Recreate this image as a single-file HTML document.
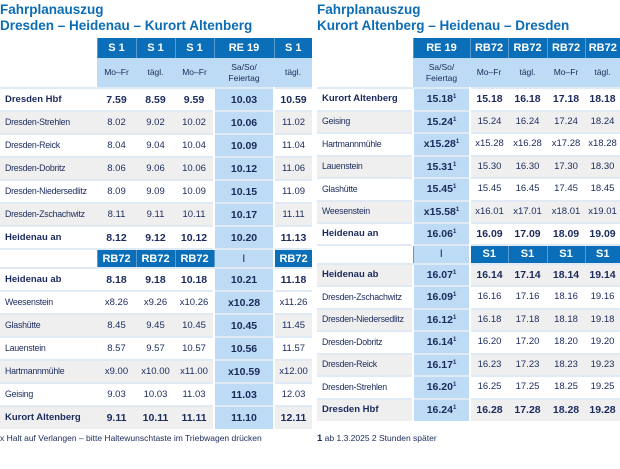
<!DOCTYPE html>
<html><head><meta charset="utf-8"><style>
body{margin:0;width:620px;height:469px;background:#fff;font-family:"Liberation Sans",sans-serif;color:#1b2a5c;position:relative;overflow:hidden}
.t{position:absolute;font-weight:bold;color:#0c6db4;font-size:13.5px;line-height:16px}
table{position:absolute;border-collapse:collapse;table-layout:fixed;font-size:9.5px;line-height:12px}
td{padding:0;text-align:center;vertical-align:middle;border-top:2px solid #dfeaf5;white-space:nowrap;overflow:hidden}
td.s{text-align:left;padding-left:5px;padding-bottom:1px;font-size:8.8px;letter-spacing:-0.25px}
tr.g td{background:#efefef}
tr.b td{font-weight:bold;font-size:10.5px}
tr.b td.s{font-size:9.5px;letter-spacing:0;padding-bottom:0}
td.re{background:#bddbf4 !important;font-weight:bold;font-size:10.5px;border-left:2px solid #fff;border-right:2px solid #fff}
tr.h td{background:#0a6fb8;color:#fff;font-weight:bold;font-size:11px;border-top:none;border-left:1px solid #5a9cd0}
tr.h td.e{background:#fff;border:none}
tr.sh td{background:#bddbf4;font-size:8.5px;line-height:11px;border-top:none}
tr.sh td.e{background:#fff}
tr.m td{background:#0a6fb8;color:#fff;font-weight:bold;font-size:11px;border-left:1px solid #5a9cd0}
tr.m td.e{background:#fff;border-left:none}
tr.m td.re{font-weight:normal;color:#1b2a5c}
sup{font-size:6px;line-height:0;vertical-align:4px}
.f{position:absolute;font-size:8.5px;top:433px}
</style></head><body>
<div class="t" style="left:0;top:2px">Fahrplanauszug<br>Dresden – Heidenau – Kurort Altenberg</div>
<div class="t" style="left:317px;top:2px">Fahrplanauszug<br>Kurort Altenberg – Heidenau – Dresden</div>

<table style="left:0;top:38px;width:312px">
<colgroup><col style="width:97px"><col style="width:39px"><col style="width:39px"><col style="width:39px"><col style="width:60px"><col style="width:38px"></colgroup>
<tr class="h" style="height:20px"><td class="e"></td><td>S 1</td><td>S 1</td><td>S 1</td><td>RE 19</td><td>S 1</td></tr>
<tr class="sh" style="height:30px"><td class="e"></td><td>Mo–Fr</td><td>tägl.</td><td>Mo–Fr</td><td>Sa/So/<br>Feiertag</td><td>tägl.</td></tr>
<tr class="b" style="height:23px"><td class="s">Dresden Hbf</td><td>7.59</td><td>8.59</td><td>9.59</td><td class="re">10.03</td><td>10.59</td></tr>
<tr class="g" style="height:23px"><td class="s">Dresden-Strehlen</td><td>8.02</td><td>9.02</td><td>10.02</td><td class="re">10.06</td><td>11.02</td></tr>
<tr style="height:23px"><td class="s">Dresden-Reick</td><td>8.04</td><td>9.04</td><td>10.04</td><td class="re">10.09</td><td>11.04</td></tr>
<tr class="g" style="height:23px"><td class="s">Dresden-Dobritz</td><td>8.06</td><td>9.06</td><td>10.06</td><td class="re">10.12</td><td>11.06</td></tr>
<tr style="height:23px"><td class="s">Dresden-Niedersedlitz</td><td>8.09</td><td>9.09</td><td>10.09</td><td class="re">10.15</td><td>11.09</td></tr>
<tr class="g" style="height:23px"><td class="s">Dresden-Zschachwitz</td><td>8.11</td><td>9.11</td><td>10.11</td><td class="re">10.17</td><td>11.11</td></tr>
<tr class="b" style="height:23px"><td class="s">Heidenau an</td><td>8.12</td><td>9.12</td><td>10.12</td><td class="re">10.20</td><td>11.13</td></tr>
<tr class="m" style="height:19px"><td class="e"></td><td>RB72</td><td>RB72</td><td>RB72</td><td class="re">I</td><td>RB72</td></tr>
<tr class="b" style="height:23px"><td class="s">Heidenau ab</td><td>8.18</td><td>9.18</td><td>10.18</td><td class="re">10.21</td><td>11.18</td></tr>
<tr style="height:23px"><td class="s">Weesenstein</td><td>x8.26</td><td>x9.26</td><td>x10.26</td><td class="re">x10.28</td><td>x11.26</td></tr>
<tr class="g" style="height:23px"><td class="s">Glashütte</td><td>8.45</td><td>9.45</td><td>10.45</td><td class="re">10.45</td><td>11.45</td></tr>
<tr style="height:23px"><td class="s">Lauenstein</td><td>8.57</td><td>9.57</td><td>10.57</td><td class="re">10.56</td><td>11.57</td></tr>
<tr class="g" style="height:23px"><td class="s">Hartmannmühle</td><td>x9.00</td><td>x10.00</td><td>x11.00</td><td class="re">x10.59</td><td>x12.00</td></tr>
<tr style="height:23px"><td class="s">Geising</td><td>9.03</td><td>10.03</td><td>11.03</td><td class="re">11.03</td><td>12.03</td></tr>
<tr class="g b" style="height:23px"><td class="s">Kurort Altenberg</td><td>9.11</td><td>10.11</td><td>11.11</td><td class="re">11.10</td><td>12.11</td></tr>
</table>

<table style="left:317px;top:38px;width:303px">
<colgroup><col style="width:96px"><col style="width:57px"><col style="width:38px"><col style="width:39px"><col style="width:38px"><col style="width:35px"></colgroup>
<tr class="h" style="height:20px"><td class="e"></td><td>RE 19</td><td>RB72</td><td>RB72</td><td>RB72</td><td>RB72</td></tr>
<tr class="sh" style="height:30px"><td class="e"></td><td>Sa/So/<br>Feiertag</td><td>Mo–Fr</td><td>tägl.</td><td>Mo–Fr</td><td>tägl.</td></tr>
<tr class="b" style="height:22.5px"><td class="s">Kurort Altenberg</td><td class="re">15.18<sup>1</sup></td><td>15.18</td><td>16.18</td><td>17.18</td><td>18.18</td></tr>
<tr class="g" style="height:22.5px"><td class="s">Geising</td><td class="re">15.24<sup>1</sup></td><td>15.24</td><td>16.24</td><td>17.24</td><td>18.24</td></tr>
<tr style="height:22.5px"><td class="s">Hartmannmühle</td><td class="re">x15.28<sup>1</sup></td><td>x15.28</td><td>x16.28</td><td>x17.28</td><td>x18.28</td></tr>
<tr class="g" style="height:22.5px"><td class="s">Lauenstein</td><td class="re">15.31<sup>1</sup></td><td>15.30</td><td>16.30</td><td>17.30</td><td>18.30</td></tr>
<tr style="height:22.5px"><td class="s">Glashütte</td><td class="re">15.45<sup>1</sup></td><td>15.45</td><td>16.45</td><td>17.45</td><td>18.45</td></tr>
<tr class="g" style="height:22.5px"><td class="s">Weesenstein</td><td class="re">x15.58<sup>1</sup></td><td>x16.01</td><td>x17.01</td><td>x18.01</td><td>x19.01</td></tr>
<tr class="b" style="height:21.5px"><td class="s">Heidenau an</td><td class="re">16.06<sup>1</sup></td><td>16.09</td><td>17.09</td><td>18.09</td><td>19.09</td></tr>
<tr class="m" style="height:19px"><td class="e"></td><td class="re">I</td><td>S1</td><td>S1</td><td>S1</td><td>S1</td></tr>
<tr class="g b" style="height:22.5px"><td class="s">Heidenau ab</td><td class="re">16.07<sup>1</sup></td><td>16.14</td><td>17.14</td><td>18.14</td><td>19.14</td></tr>
<tr style="height:22.5px"><td class="s">Dresden-Zschachwitz</td><td class="re">16.09<sup>1</sup></td><td>16.16</td><td>17.16</td><td>18.16</td><td>19.16</td></tr>
<tr class="g" style="height:22.5px"><td class="s">Dresden-Niedersedlitz</td><td class="re">16.12<sup>1</sup></td><td>16.18</td><td>17.18</td><td>18.18</td><td>19.18</td></tr>
<tr style="height:22.5px"><td class="s">Dresden-Dobritz</td><td class="re">16.14<sup>1</sup></td><td>16.20</td><td>17.20</td><td>18.20</td><td>19.20</td></tr>
<tr class="g" style="height:22.5px"><td class="s">Dresden-Reick</td><td class="re">16.17<sup>1</sup></td><td>16.23</td><td>17.23</td><td>18.23</td><td>19.23</td></tr>
<tr style="height:22.5px"><td class="s">Dresden-Strehlen</td><td class="re">16.20<sup>1</sup></td><td>16.25</td><td>17.25</td><td>18.25</td><td>19.25</td></tr>
<tr class="g b" style="height:22.5px"><td class="s">Dresden Hbf</td><td class="re">16.24<sup>1</sup></td><td>16.28</td><td>17.28</td><td>18.28</td><td>19.28</td></tr>
</table>

<div class="f" style="left:0">x Halt auf Verlangen – bitte Haltewunschtaste im Triebwagen drücken</div>
<div class="f" style="left:317px"><b style="font-size:9.5px">1</b> ab 1.3.2025 2 Stunden später</div>
</body></html>
